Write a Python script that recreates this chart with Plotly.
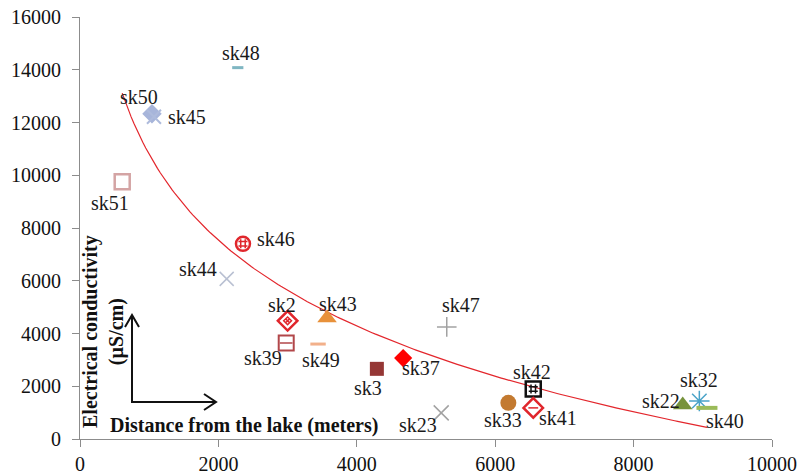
import numpy as np
import plotly.graph_objects as go

# Sampling stations: distance from the lake (m) and electrical conductivity (µS/cm)
stations = ["sk48", "sk50", "sk45", "sk51", "sk46", "sk44", "sk2", "sk43", "sk39", "sk49",
            "sk3", "sk37", "sk47", "sk23", "sk42", "sk33", "sk41", "sk22", "sk32", "sk40"]
distance_m = [2280, 1040, 1069, 610, 2355, 2120, 3000, 3570, 2980, 3440,
              4290, 4670, 5300, 5220, 6550, 6190, 6550, 8710, 8950, 9060]
conductivity = [14080, 12330, 12220, 9750, 7400, 6070, 4480, 4590, 3640, 3600,
                2660, 3070, 4250, 990, 1900, 1370, 1180, 1290, 1440, 1180]

x_ticks = [0, 2000, 4000, 6000, 8000, 10000]
y_ticks = [0, 2000, 4000, 6000, 8000, 10000, 12000, 14000, 16000]

# Marker style per station: (symbol, colour, size, line width, optional overlay symbol + size)
STYLE = {
    "sk48": ("line-ew", "#7fb6c2", 8, 3, None, 0),
    "sk50": ("diamond", "#a7b5da", 15, 0, None, 0),
    "sk45": ("x-thin-open", "#aebbdc", 14, 2, None, 0),
    "sk51": ("square-open", "#d4a4a4", 15, 2.5, None, 0),
    "sk46": ("circle-open", "#e0262c", 14, 2.5, "hash-open", 9),
    "sk44": ("x-thin-open", "#b9c0d2", 14, 1.5, None, 0),
    "sk2": ("diamond-open", "#e0262c", 15, 2.5, "diamond-x-open", 6),
    "sk43": ("triangle-up", "#e8913a", 17, 0, None, 0),
    "sk39": ("square-open", "#b2474a", 15, 2, "line-ew-open", 9),
    "sk49": ("line-ew", "#f2b08a", 11, 3, None, 0),
    "sk3": ("square", "#953735", 14, 0, None, 0),
    "sk37": ("diamond", "#ff0000", 14, 0, None, 0),
    "sk47": ("cross-thin-open", "#a2a2a2", 14, 1.5, None, 0),
    "sk23": ("x-thin-open", "#a2a2a2", 15, 1.5, None, 0),
    "sk42": ("square-open", "#111111", 15, 2.5, "hash-open", 9),
    "sk33": ("circle", "#c37a30", 16, 0, None, 0),
    "sk41": ("diamond-open", "#e0262c", 15, 2.5, "line-ew-open", 7),
    "sk22": ("triangle-up", "#77933c", 17, 0, None, 0),
    "sk32": ("asterisk-open", "#4aa3c8", 17, 1.5, None, 0),
    "sk40": ("line-ew", "#9bbb59", 15, 4, None, 0),
}

# Label offsets from each marker, in pixels (x right, y up)
LABEL_SHIFT = {
    "sk48": (3, 15), "sk50": (-13, 17), "sk45": (33, 0), "sk51": (-12, -21),
    "sk46": (33, 5), "sk44": (-29, 10), "sk2": (-6, 16), "sk43": (11, 14),
    "sk39": (-23, -15), "sk49": (3, -16), "sk3": (-9, -19), "sk37": (18, -10),
    "sk47": (14, 22), "sk23": (-23, -12), "sk42": (-1, 17), "sk33": (-5, -17),
    "sk41": (25, -10), "sk22": (-22, 4), "sk32": (0, 21), "sk40": (18, -13),
}

FONT = "Liberation Serif"

fig = go.Figure()

# Logarithmic trend line fitted to all stations
lx = np.log(np.array(distance_m, dtype=float))
yv = np.array(conductivity, dtype=float)
slope, intercept = np.polyfit(lx, yv, 1)
xs = np.linspace(min(distance_m), max(distance_m), 200)
fig.add_trace(go.Scatter(x=xs, y=slope * np.log(xs) + intercept, mode="lines",
                         line=dict(color="#e3262c", width=1.2), hoverinfo="skip"))

for name, x, y in zip(stations, distance_m, conductivity):
    sym, col, size, lw, over, osize = STYLE[name]
    if sym.endswith("open") or sym.startswith("line"):
        marker = dict(symbol=sym, size=size, color=col, line=dict(color=col, width=lw))
    else:
        marker = dict(symbol=sym, size=size, color=col, line=dict(width=0))
    fig.add_trace(go.Scatter(x=[x], y=[y], mode="markers", marker=marker, name=name))
    if over:
        fig.add_trace(go.Scatter(x=[x], y=[y], mode="markers", name=name,
                                 marker=dict(symbol=over, size=osize, color=col,
                                             line=dict(color=col, width=1.5))))
    dx, dy = LABEL_SHIFT[name]
    fig.add_annotation(x=x, y=y, text=name, showarrow=False, xshift=dx, yshift=dy,
                       font=dict(family=FONT, size=20, color="#1a1a1a"))

# Plot area in pixels, used to place the in-plot axis guide
W, H = 800, 476
L, R, T, B = 80, 28, 17, 37
pw, ph = W - L - R, H - T - B


def px(xp):
    return (xp - L) / pw


def py(yp):
    return (H - B - yp) / ph


guide = dict(color="#111111", width=2)
fig.add_shape(type="path", xref="paper", yref="paper", line=guide,
              path=f"M {px(132)},{py(316)} L {px(132)},{py(402)} L {px(215)},{py(402)}")
fig.add_shape(type="path", xref="paper", yref="paper", line=guide,
              path=f"M {px(125)},{py(327)} L {px(132)},{py(315)} L {px(139)},{py(327)}")
fig.add_shape(type="path", xref="paper", yref="paper", line=guide,
              path=f"M {px(204)},{py(394)} L {px(216)},{py(402)} L {px(204)},{py(410)}")

fig.add_annotation(xref="paper", yref="paper", x=px(108), y=py(425), xanchor="left",
                   yanchor="middle", showarrow=False,
                   text="<b>Distance from the lake (meters)</b>",
                   font=dict(family=FONT, size=20, color="#111111"))
fig.add_annotation(xref="paper", yref="paper", x=px(103), y=py(332), textangle=-90,
                   xanchor="center", yanchor="middle",
                   showarrow=False, text="<b>Electrical conductivity<br>(µS/cm)</b>",
                   font=dict(family=FONT, size=20, color="#111111"))

axis_common = dict(showgrid=False, zeroline=False, showline=True, linecolor="#8c8c8c",
                   linewidth=1, ticks="outside", ticklen=7, tickcolor="#8c8c8c",
                   automargin=False,
                   tickfont=dict(family=FONT, size=20, color="#111111"))
fig.update_xaxes(range=[0, 10000], tickvals=x_ticks, ticktext=[str(v) for v in x_ticks],
                 **axis_common)
fig.update_yaxes(range=[0, 16000], tickvals=y_ticks, ticktext=[str(v) for v in y_ticks],
                 ticklabelstandoff=7, **axis_common)

fig.update_layout(width=W, height=H, margin=dict(l=L, r=R, t=T, b=B),
                  plot_bgcolor="white", paper_bgcolor="white", showlegend=False)

fig.write_html("out.html")
